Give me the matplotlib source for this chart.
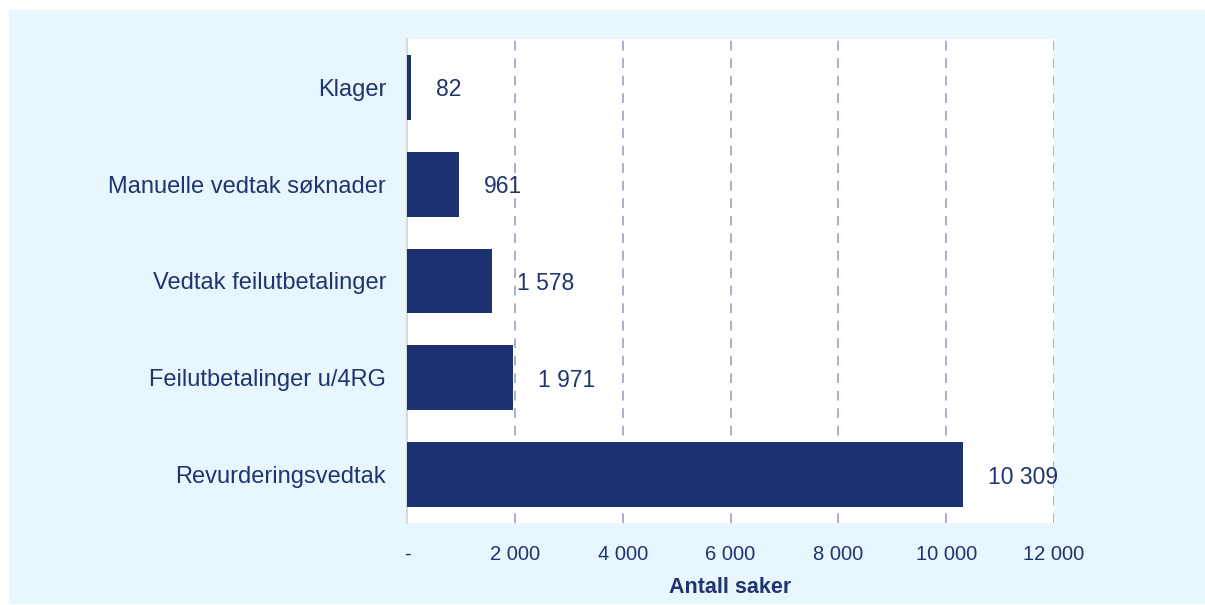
import matplotlib.pyplot as plt
from matplotlib.patches import Rectangle

categories = ['Klager', 'Manuelle vedtak søknader', 'Vedtak feilutbetalinger',
              'Feilutbetalinger u/4RG', 'Revurderingsvedtak']
values = [82, 961, 1578, 1971, 10309]
xticks = [0, 2000, 4000, 6000, 8000, 10000, 12000]
xtick_labels = ['-', '2 000', '4 000', '6 000', '8 000', '10 000', '12 000']

navy = '#1B3170'
txt = '#1F3470'
bg = '#E8F6FE'

fig = plt.figure(figsize=(12.05, 6.05), dpi=100)
# light blue panel behind the whole chart
fig.add_artist(Rectangle((9 / 1205, 1 / 605), 1 - 9 / 1205, 1 - 11 / 605,
                         transform=fig.transFigure, facecolor=bg,
                         edgecolor='none', zorder=-10))
ax = fig.add_axes([407 / 1205, 82 / 605, 647 / 1205, 484 / 605])
ax.set_zorder(1)
ax.set_facecolor('white')

ypos = list(range(len(categories)))[::-1]
ax.barh(ypos, values, height=0.67, color=navy, zorder=3)
for y, v in zip(ypos, values):
    ax.annotate(f'{v:,}'.replace(',', ' '), (v, y), xytext=(18, 0),
                textcoords='offset points', va='center_baseline', ha='left',
                fontsize=16.5, color=txt, family='Liberation Sans', zorder=4)

ax.set_xlim(0, 12000)
ax.set_ylim(-0.5, 4.5)
ax.set_yticks(ypos)
ax.set_yticklabels(categories, fontsize=17, color=txt, family='Liberation Sans')
ax.set_xticks(xticks)
ax.set_xticklabels(xtick_labels, fontsize=14.5, color=txt, family='Liberation Sans')
ax.tick_params(length=0)
ax.tick_params(axis='y', pad=15)
ax.tick_params(axis='x', pad=16)

ax.xaxis.grid(True, linestyle=(0, (5, 4)), color='#A7B0CB', linewidth=1.4, zorder=1)
for s in ['top', 'right', 'bottom']:
    ax.spines[s].set_visible(False)
ax.spines['left'].set_color('#D9D9D9')
ax.spines['left'].set_linewidth(1.5)

ax.set_xlabel('Antall saker', fontsize=15.5, fontweight='bold', color=txt,
              family='Liberation Sans', labelpad=9)

fig.savefig('out.png', dpi=100)
